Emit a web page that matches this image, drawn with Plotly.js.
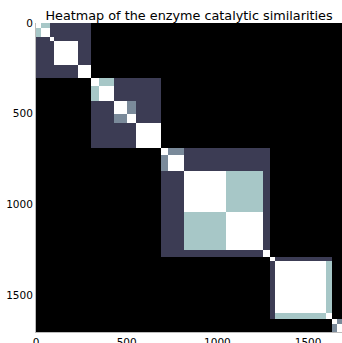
<!DOCTYPE html>
<html><head><meta charset="utf-8">
<script src="https://cdn.plot.ly/plotly-3.0.1.min.js"></script>
<style>html,body{margin:0;padding:0;background:#fff;}#chart{width:342px;height:343px;}</style>
</head><body><div id="chart"></div>
<script>
// Enzyme group boundaries (index along the sorted enzyme list)
const groupEdges = [0, 28, 77, 97, 230, 303, 350, 430, 502, 552, 690, 727, 815, 1045, 1252, 1292, 1315, 1600, 1632, 1662, 1705];
// Super-cluster membership of each group
const superCluster = [0, 0, 0, 0, 0, 1, 1, 1, 1, 1, 2, 2, 2, 2, 2, 3, 3, 3, 4, 4];
// Similarity inside a group, inside a super-cluster, and between unrelated groups
const selfSimilarity = 1.0;
const clusterSimilarity = 0.27;
const noSimilarity = 0.0;
// Specific group pairs with higher similarity: [groupA, groupB, value]
const pairSimilarity = [[0, 1, 0.75], [5, 6, 0.75], [7, 8, 0.55], [10, 11, 0.55], [12, 13, 0.75], [16, 17, 0.75], [18, 19, 0.55]];
const tickValues = [0, 500, 1000, 1500];
const tickLabels = ['0', '500', '1000', '1500'];
const chartTitle = 'Heatmap of the enzyme catalytic similarities';

const n = superCluster.length;
const z = [];
for (let i = 0; i < n; i++) {
  const row = [];
  for (let j = 0; j < n; j++) {
    let v = noSimilarity;
    if (i === j) v = selfSimilarity;
    else if (superCluster[i] === superCluster[j]) v = clusterSimilarity;
    for (const p of pairSimilarity) {
      if ((p[0] === i && p[1] === j) || (p[0] === j && p[1] === i)) v = p[2];
    }
    row.push(v);
  }
  z.push(row);
}

const bone = [[0, '#000000'], [0.365, '#515171'], [0.746, '#a6c6c6'], [1, '#ffffff']];

const trace = {
  type: 'heatmap', x: groupEdges, y: groupEdges, z: z,
  colorscale: bone, zmin: 0, zmax: 1, showscale: false, hoverinfo: 'skip'
};
const axisFont = {family: 'DejaVu Sans', size: 10.5, color: '#000'};
const layout = {
  width: 342, height: 343,
  margin: {l: 36, r: 0, t: 23, b: 11, pad: 0},
  paper_bgcolor: '#fff', plot_bgcolor: '#fff',
  title: {text: chartTitle, font: {family: 'DejaVu Sans', size: 12.8, color: '#000'},
          x: 0.5, xref: 'paper', xanchor: 'center', y: 1, yref: 'paper', yanchor: 'bottom', pad: {b: 3}},
  xaxis: {range: [0, 1687], tickvals: tickValues, ticktext: tickLabels, tickfont: axisFont,
          showgrid: false, zeroline: false, showline: true, linecolor: '#bbb', linewidth: 1, ticks: '', mirror: false},
  yaxis: {range: [1705, 0], tickvals: tickValues, ticktext: tickLabels, tickfont: axisFont,
          showgrid: false, zeroline: false, showline: true, linecolor: '#bbb', linewidth: 1, ticks: ''},
  showlegend: false
};
Plotly.newPlot('chart', [trace], layout, {displayModeBar: false, staticPlot: true});
</script>
</body></html>
